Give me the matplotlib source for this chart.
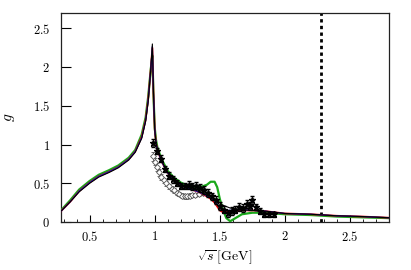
import numpy as np
import matplotlib
matplotlib.use("Agg")
import matplotlib.pyplot as plt
from matplotlib.ticker import MultipleLocator, FuncFormatter

plt.rcParams['mathtext.fontset'] = 'cm'
plt.rcParams['font.family'] = 'serif'
plt.rcParams['font.serif'] = ['DejaVu Serif']

# model curves, sqrt(s) in GeV
x_curve = [0.28, 0.35, 0.42, 0.5, 0.57, 0.65, 0.72, 0.8, 0.85, 0.9, 0.93, 0.95,
           0.97, 0.982, 0.99, 1.0, 1.01, 1.02, 1.05, 1.1, 1.15, 1.2, 1.25, 1.3,
           1.35, 1.4, 1.43, 1.46, 1.48, 1.5, 1.52, 1.55, 1.58, 1.62, 1.67, 1.75,
           1.85, 2.0, 2.2, 2.4, 2.6, 2.8]
g_black = [0.14, 0.26, 0.39, 0.50, 0.58, 0.64, 0.70, 0.80, 0.90, 1.08, 1.30, 1.56,
           1.98, 2.30, 1.70, 1.20, 1.02, 0.95, 0.80, 0.64, 0.55, 0.49, 0.45, 0.42,
           0.39, 0.35, 0.33, 0.30, 0.28, 0.25, 0.22, 0.20, 0.18, 0.17, 0.16, 0.15,
           0.14, 0.11, 0.10, 0.08, 0.07, 0.055]
g_red = [0.14, 0.26, 0.40, 0.51, 0.59, 0.65, 0.71, 0.81, 0.91, 1.10, 1.32, 1.59,
         1.98, 2.25, 1.68, 1.20, 1.02, 0.94, 0.79, 0.63, 0.54, 0.48, 0.44, 0.41,
         0.38, 0.33, 0.30, 0.25, 0.20, 0.15, 0.13, 0.13, 0.13, 0.14, 0.15, 0.15,
         0.14, 0.11, 0.10, 0.08, 0.07, 0.055]
g_blue = [0.14, 0.26, 0.40, 0.51, 0.59, 0.65, 0.71, 0.81, 0.91, 1.09, 1.31, 1.58,
          1.98, 2.27, 1.69, 1.20, 1.02, 0.94, 0.79, 0.63, 0.54, 0.48, 0.44, 0.41,
          0.38, 0.34, 0.31, 0.27, 0.23, 0.18, 0.16, 0.15, 0.15, 0.16, 0.16, 0.15,
          0.14, 0.11, 0.10, 0.08, 0.07, 0.055]
g_green = [0.15, 0.28, 0.42, 0.53, 0.61, 0.67, 0.73, 0.83, 0.93, 1.13, 1.35, 1.62,
           1.98, 2.15, 1.66, 1.22, 1.06, 0.97, 0.82, 0.66, 0.57, 0.51, 0.47, 0.45,
           0.45, 0.48, 0.52, 0.52, 0.45, 0.30, 0.18, 0.05, 0.01, 0.05, 0.10, 0.12,
           0.12, 0.10, 0.09, 0.07, 0.06, 0.05]

# data, filled stars
x_star = [0.99, 1.02, 1.05, 1.08, 1.11, 1.14, 1.17, 1.2, 1.23, 1.26, 1.29, 1.32,
          1.35, 1.38, 1.41, 1.44, 1.47, 1.5, 1.53, 1.56, 1.59, 1.62, 1.65, 1.68,
          1.71, 1.73, 1.75, 1.78, 1.81, 1.84, 1.88, 1.92]
g_star = [1.02, 0.92, 0.82, 0.68, 0.60, 0.55, 0.50, 0.47, 0.46, 0.48, 0.46, 0.47,
          0.44, 0.41, 0.37, 0.33, 0.28, 0.21, 0.16, 0.11, 0.14, 0.16, 0.19, 0.18,
          0.23, 0.21, 0.28, 0.19, 0.14, 0.10, 0.10, 0.10]
err_star = [0.05, 0.04, 0.04, 0.04, 0.04, 0.04, 0.04, 0.04, 0.04, 0.05, 0.05, 0.05,
            0.05, 0.05, 0.05, 0.05, 0.05, 0.05, 0.05, 0.05, 0.05, 0.05, 0.05, 0.05,
            0.05, 0.05, 0.05, 0.04, 0.04, 0.03, 0.03, 0.03]

# data, open diamonds
x_dia = [0.985, 1.0, 1.015, 1.03, 1.05, 1.07, 1.09, 1.11, 1.13, 1.15, 1.17,
         1.19, 1.21, 1.23, 1.25, 1.27, 1.29, 1.31, 1.34, 1.37]
g_dia = [0.85, 0.78, 0.71, 0.64, 0.58, 0.54, 0.50, 0.46, 0.43, 0.41, 0.38,
         0.36, 0.34, 0.33, 0.33, 0.34, 0.35, 0.35, 0.36, 0.38]
err_dia = [0.06, 0.05, 0.05, 0.04, 0.04, 0.03, 0.03, 0.03, 0.03, 0.03, 0.03,
           0.03, 0.03, 0.03, 0.03, 0.03, 0.03, 0.03, 0.03, 0.03]

x_cut = 2.28

fig = plt.figure(figsize=(4.11, 2.70), dpi=100)
ax = fig.add_axes([61 / 411, 48 / 270, 328 / 411, 209 / 270])

ax.errorbar(x_dia, g_dia, yerr=err_dia, fmt='D', ms=3.0, mfc='white', mec='#555555',
            mew=0.6, ecolor='#555555', elinewidth=0.6, capsize=1.2, zorder=2)
ax.plot(x_curve, g_green, color='#1aa81a', lw=1.6, zorder=3)
ax.plot(x_curve, g_red, color='#e00000', lw=1.3, zorder=4)
ax.plot(x_curve, g_blue, color='#2020c0', lw=0.9, zorder=4)
ax.plot(x_curve, g_black, color='black', lw=0.8, zorder=5)
ax.errorbar(x_star, g_star, yerr=err_star, fmt='*', ms=4.6, color='black',
            ecolor='black', elinewidth=0.5, capsize=1.2, zorder=6)
ax.axvline(x_cut, color='black', ls=(0, (1.2, 1.2)), lw=2.0, zorder=1)

ax.set_xlim(0.28, 2.8)
ax.set_ylim(0, 2.7)
ax.xaxis.set_major_locator(MultipleLocator(0.5))
ax.xaxis.set_minor_locator(MultipleLocator(0.1))
ax.yaxis.set_major_locator(MultipleLocator(0.5))
fmt = FuncFormatter(lambda v, p: '$%g$' % v)
ax.xaxis.set_major_formatter(fmt)
ax.yaxis.set_major_formatter(fmt)
ax.tick_params(which='major', direction='in', length=5, width=0.8, labelsize=9, pad=6)
ax.tick_params(which='minor', direction='in', length=2.5, width=0.6)
ax.tick_params(axis='y', which='major', length=7, pad=8)
for s in ax.spines.values():
    s.set_linewidth(0.9)
    s.set_color('#222222')

ax.set_xlabel(r'$\sqrt{s}\,[\mathrm{GeV}]$', fontsize=10, labelpad=3)
fig.text(10 / 411, 1 - 117 / 270, r'$g$', fontsize=11, rotation=90,
         ha='center', va='center')

fig.savefig('out.png', dpi=100)
